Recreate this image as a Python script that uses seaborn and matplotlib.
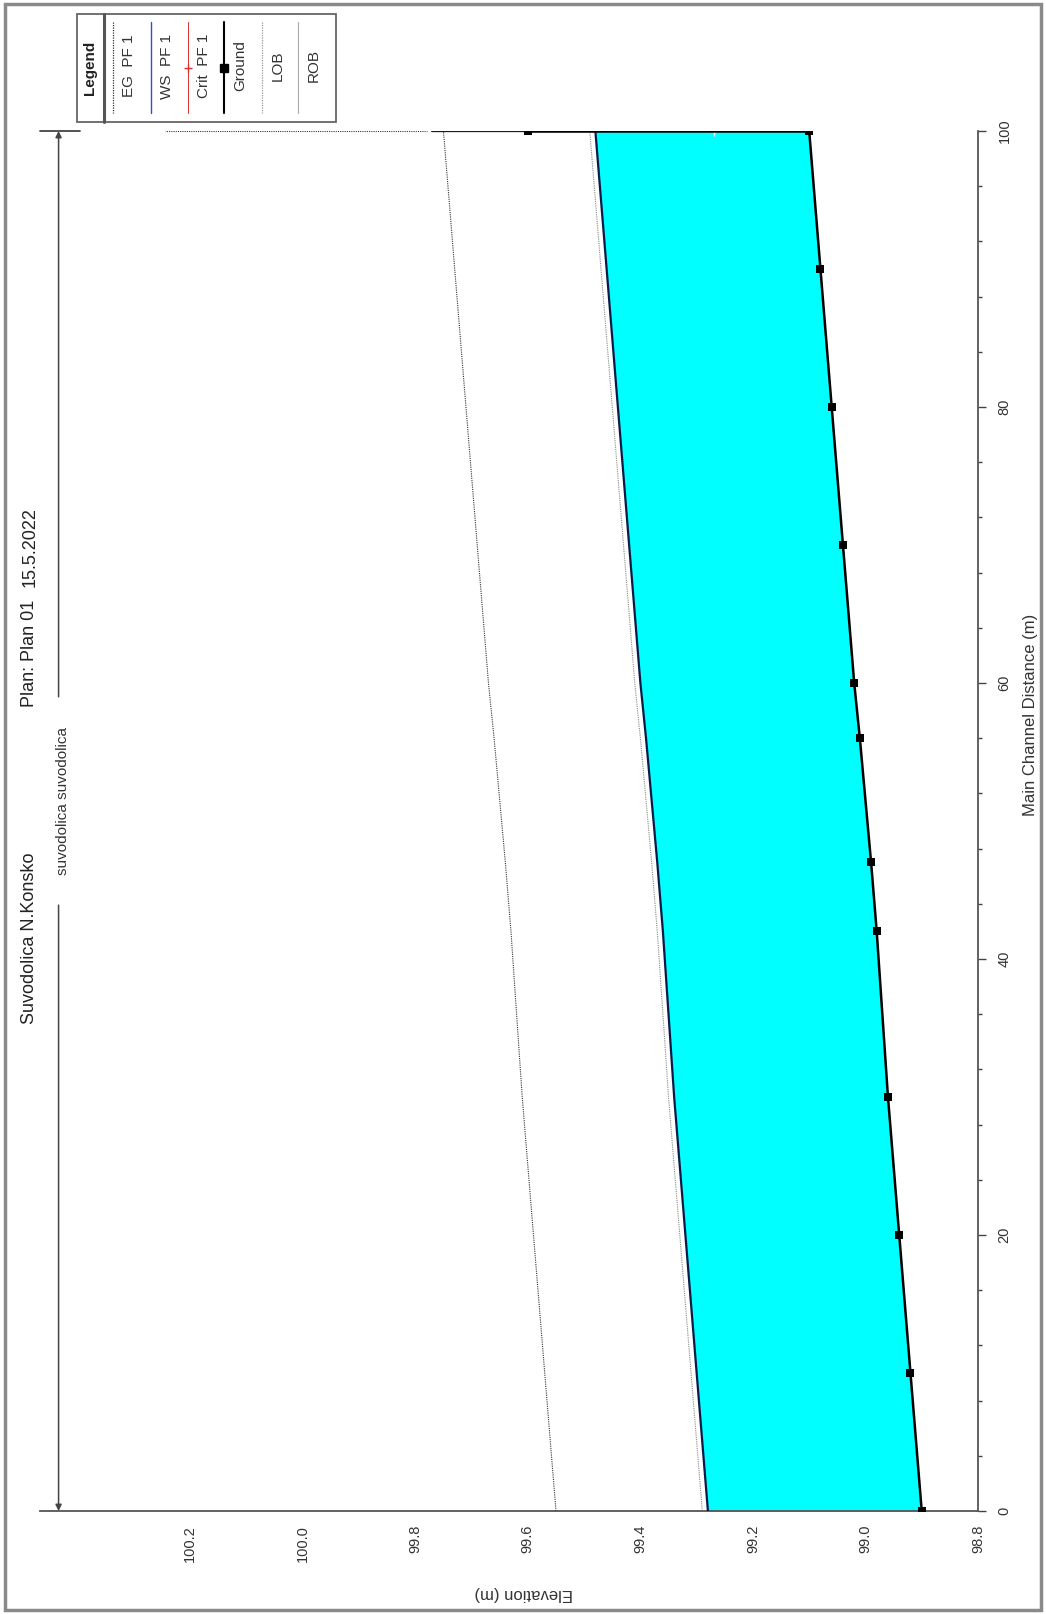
import matplotlib
matplotlib.use("Agg")
import matplotlib.pyplot as plt
import seaborn as sns
import pandas as pd
from matplotlib.lines import Line2D
from matplotlib.patches import Rectangle

sns.set_theme(style="white")
plt.rcParams['font.family'] = ['Liberation Sans', 'DejaVu Sans']

# ---- profile data -------------------------------------------------------
# river stations along the main channel (m)
station = [0, 10, 20, 30, 42, 47, 56, 60, 70, 80, 90, 100]
# channel bed elevation (m)
ground = [98.90, 98.92, 98.94, 98.96, 98.98, 98.99, 99.01, 99.02, 99.04, 99.06, 99.08, 99.10]
# water surface PF 1 (m)
ws = [99.28, 99.30, 99.32, 99.34, 99.36, 99.37, 99.39, 99.40, 99.42, 99.44, 99.46, 99.48]
# energy grade line PF 1 (m)
eg = [99.55, 99.57, 99.59, 99.61, 99.63, 99.64, 99.66, 99.67, 99.69, 99.71, 99.73, 99.75]
# left bank elevation (m)
lob = [99.29, 99.31, 99.33, 99.35, 99.37, 99.38, 99.40, 99.41, 99.43, 99.45, 99.47, 99.49]

# upstream face of the structure at station 100
struct_station = [100, 100]
struct_ground = [99.10, 99.60]
struct_ws = [99.48, 99.77]
struct_eg = [99.75, 100.245]
crit_station = [100, 100]
crit = [99.27, 99.77]

elev_ticks = [98.8, 99.0, 99.2, 99.4, 99.6, 99.8, 100.0, 100.2]
dist_ticks = [0, 20, 40, 60, 80, 100]

W, H = 1046, 1614
fig = plt.figure(figsize=(W / 100, H / 100), dpi=100)


def fx(x):
    return x / W


def fy(y):
    return 1 - y / H


ax = fig.add_axes([fx(40), fy(1511), fx(978) - fx(40), fy(131) - fy(1511)])
ax.set_facecolor("white")

prof = pd.DataFrame({"station": station, "ground": ground, "ws": ws, "eg": eg, "lob": lob})
struct = pd.DataFrame({"station": struct_station, "ground": struct_ground,
                       "ws": struct_ws, "eg": struct_eg})
crit_df = pd.DataFrame({"station": crit_station, "crit": crit})

# water body between bed and water surface
ax.fill_betweenx(prof["station"], prof["ground"], prof["ws"], color="#00ffff", lw=0, zorder=1)

common = dict(sort=False, estimator=None, legend=False)
sns.lineplot(data=prof, x="eg", y="station", ax=ax, color="#333333", lw=0.8,
             linestyle=(0, (1, 1)), zorder=3, **common)
sns.lineplot(data=struct, x="eg", y="station", ax=ax, color="#333333", lw=0.8,
             linestyle=(0, (1, 1)), zorder=3, **common)
sns.lineplot(data=prof, x="lob", y="station", ax=ax, color="#888888", lw=0.8,
             linestyle=(0, (1, 1)), zorder=2, **common)
sns.lineplot(data=crit_df, x="crit", y="station", ax=ax, color="#e03030", lw=0.8,
             marker="+", markersize=7, markeredgewidth=1, zorder=3, **common)
sns.lineplot(data=prof, x="ws", y="station", ax=ax, color="#0d1a45", lw=1.6, zorder=4, **common)
sns.lineplot(data=struct, x="ws", y="station", ax=ax, color="#0d1a45", lw=1.6, zorder=4, **common)
sns.lineplot(data=prof, x="ground", y="station", ax=ax, color="black", lw=1.8,
             marker="s", markersize=6, markeredgewidth=0, zorder=5, **common)
sns.lineplot(data=struct, x="ground", y="station", ax=ax, color="black", lw=1.8,
             marker="s", markersize=6, markeredgewidth=0, zorder=5, **common)

ax.set_xlim(100.467, 98.8)
ax.set_ylim(0, 100)

# elevation axis along the bottom, distance axis on the right
for side in ("top", "left"):
    ax.spines[side].set_visible(False)
for side in ("bottom", "right"):
    ax.spines[side].set_color("#555555")
    ax.spines[side].set_linewidth(1.3)

ax.set_xticks(elev_ticks)
ax.set_xticklabels([f"{v:.1f}" for v in elev_ticks])
ax.set_xticks([v / 10 for v in range(988, 1005)], minor=True)
ax.yaxis.tick_right()
ax.set_yticks(dist_ticks)
ax.set_yticklabels([str(v) for v in dist_ticks])
ax.set_yticks(list(range(0, 101, 4)), minor=True)
ax.tick_params(axis="x", which="both", direction="out", labelrotation=90,
               labelsize=10.5, colors="#444444", labelcolor="#333333", pad=4)
ax.tick_params(axis="x", which="major", length=6, width=1)
ax.tick_params(axis="x", which="minor", length=3, width=1)
ax.tick_params(axis="y", which="both", direction="out", labelrotation=90,
               labelsize=10.5, colors="#444444", labelcolor="#333333", pad=8,
               left=False, right=True)
ax.tick_params(axis="y", which="major", length=6, width=1)
ax.tick_params(axis="y", which="minor", length=3, width=1)
for lbl in ax.get_yticklabels():
    lbl.set_verticalalignment("center")

ax.set_xlabel("Elevation (m)", rotation=180, fontsize=12, color="#333333")
ax.xaxis.set_label_coords((524 - 40) / 938, -(1593 - 1511) / 1380)
ax.xaxis.label.set_verticalalignment("center")
ax.yaxis.set_label_position("right")
ax.set_ylabel("Main Channel Distance (m)", rotation=90, fontsize=12, color="#333333")
ax.yaxis.set_label_coords((1030 - 40) / 938, (1511 - 715) / 1380)
ax.yaxis.label.set_verticalalignment("center")
ax.yaxis.label.set_horizontalalignment("center")

# reach length dimension line, broken around the reach name
reach_x = 100.434
arrow = dict(arrowstyle="-|>", color="#444444", lw=1.1, mutation_scale=9, shrinkA=0, shrinkB=0)
ax.annotate("", xy=(reach_x, 100), xytext=(reach_x, 59), arrowprops=arrow, zorder=3)
ax.annotate("", xy=(reach_x, 0), xytext=(reach_x, 43.9), arrowprops=arrow, zorder=3)
ax.plot([100.467, 100.396], [100, 100], color="#444444", lw=1.3, clip_on=False)
fig.text(fx(63), fy(727), "suvodolica suvodolica", rotation=90, fontsize=11,
         ha="center", va="top", color="#333333")

# title
fig.text(fx(30), fy(507), "15.5.2022", rotation=90, fontsize=13, ha="center", va="top", color="#222222")
fig.text(fx(30), fy(600), "Plan: Plan 01", rotation=90, fontsize=13, ha="center", va="top", color="#222222")
fig.text(fx(30), fy(853), "Suvodolica N.Konsko", rotation=90, fontsize=13, ha="center", va="top", color="#222222")

# legend panel
fig.add_artist(Rectangle((fx(77), fy(122)), fx(336) - fx(77), fy(14) - fy(122),
                         transform=fig.transFigure, facecolor="white",
                         edgecolor="#666666", lw=1.3))
fig.add_artist(Line2D([fx(104), fx(104)], [fy(14), fy(122)], transform=fig.transFigure,
                      color="#555555", lw=2.2))
fig.text(fx(90), fy(68), "Legend", rotation=90, fontsize=11, fontweight="bold",
         ha="center", va="center", color="#222222")

legend_items = ["EG  PF 1", "WS  PF 1", "Crit  PF 1", "Ground", "LOB", "ROB"]
legend_colors = ["#333333", "#3a4bd0", "#e03030", "black", "#999999", "#aaaaaa"]
legend_styles = [(0, (1, 1)), "-", "-", "-", (0, (1, 1)), "-"]
legend_widths = [0.9, 1.0, 0.7, 1.5, 0.9, 0.8]
legend_markers = [None, None, "+", "s", None, None]
sample_x = [113, 151, 188, 224, 262, 298]
for name, col, ls, lw, mk, sx in zip(legend_items, legend_colors, legend_styles,
                                     legend_widths, legend_markers, sample_x):
    fig.add_artist(Line2D([fx(sx), fx(sx)], [fy(22), fy(113)], transform=fig.transFigure,
                          color=col, ls=ls, lw=lw))
    if mk:
        fig.add_artist(Line2D([fx(sx)], [fy(68)], transform=fig.transFigure, color=col,
                              marker=mk, markersize=6, markeredgewidth=1, ls="none"))
    fig.text(fx(sx + 16), fy(66), name, rotation=90, fontsize=11, ha="center",
             va="center", color="#333333")

# outer frame
fig.add_artist(Rectangle((fx(5), fy(1610)), fx(1041) - fx(5), fy(4) - fy(1610),
                         transform=fig.transFigure, facecolor="none",
                         edgecolor="#8a8a8a", lw=2.5))

fig.savefig("out.png", dpi=100, facecolor="white")
